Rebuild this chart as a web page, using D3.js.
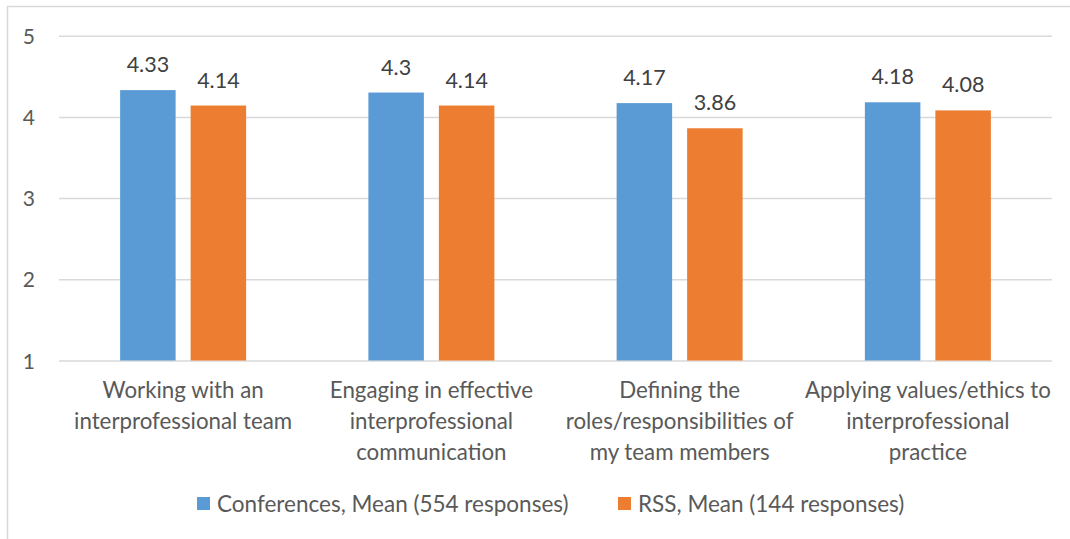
<!DOCTYPE html>
<html>
<head>
<meta charset="utf-8">
<script src="https://cdn.jsdelivr.net/npm/d3@7"></script>
<style>
  html, body { margin: 0; padding: 0; background: #ffffff; }
  svg { display: block; }
  text { font-family: Lato, "Open Sans", sans-serif; }
</style>
</head>
<body>
<svg id="chart" width="1070" height="539"></svg>
<script>
// Survey items (x-axis), wrapped onto lines as displayed
const categories = [
  ["Working with an", "interprofessional team"],
  ["Engaging in effective", "interprofessional", "communication"],
  ["Defining the", "roles/responsibilities of", "my team members"],
  ["Applying values/ethics to", "interprofessional", "practice"]
];
const seriesNames = ["Conferences, Mean (554 responses)", "RSS, Mean (144 responses)"];
const conferencesMean = [4.33, 4.3, 4.17, 4.18];
const rssMean = [4.14, 4.14, 3.86, 4.08];
const yTicks = [1, 2, 3, 4, 5];
const colors = ["#5b9bd5", "#ed7d31"];

const svg = d3.select("#chart");
const W = 1070, H = 539;
const plot = { left: 59, right: 1052, top: 35.7, bottom: 360.5 };

// chart frame
svg.append("rect").attr("x", 0).attr("y", 0).attr("width", W).attr("height", H).attr("fill", "#fff");
svg.append("path")
  .attr("d", `M7.5,${H + 2} L7.5,6.5 L${W + 2},6.5`)
  .attr("fill", "none").attr("stroke", "#d9d9d9").attr("stroke-width", 1.5);

const keys = categories.map((c, i) => i);
const x0 = d3.scaleBand().domain(keys).range([plot.left, plot.right]).padding(0);
const bw = x0.bandwidth();
const x1 = d3.scaleBand().domain([0, 1])
  .range([bw / 2 - 63, bw / 2 + 63]).paddingInner(15 / 70.5).paddingOuter(0);
const y = d3.scaleLinear().domain([1, 5]).range([plot.bottom, plot.top]);

// horizontal gridlines with value labels
const yAxis = d3.axisLeft(y).tickValues(yTicks).tickSize(-(plot.right - plot.left)).tickPadding(24).tickFormat(d3.format("d"));
const gy = svg.append("g").attr("transform", `translate(${plot.left},0)`).call(yAxis);
gy.select(".domain").remove();
gy.selectAll(".tick line").attr("stroke", "#d9d9d9").attr("stroke-width", 1.5);
gy.selectAll(".tick text").attr("fill", "#595959").attr("font-size", 21)
  .attr("font-family", "Lato, sans-serif").attr("dy", "0.36em");

const series = [conferencesMean, rssMean];

const groups = svg.append("g").selectAll("g")
  .data(keys).join("g")
  .attr("transform", d => `translate(${x0(d)},0)`);

groups.selectAll("rect")
  .data(i => series.map((s, k) => ({ k, v: s[i] })))
  .join("rect")
  .attr("x", d => x1(d.k))
  .attr("width", x1.bandwidth())
  .attr("y", d => y(d.v))
  .attr("height", d => y(1) - y(d.v))
  .attr("fill", d => colors[d.k]);

groups.selectAll("text.val")
  .data(i => series.map((s, k) => ({ k, v: s[i] })))
  .join("text")
  .attr("class", "val")
  .attr("x", d => x1(d.k) + x1.bandwidth() / 2)
  .attr("y", d => y(d.v) - 18)
  .attr("text-anchor", "middle")
  .attr("font-size", 21.5)
  .attr("fill", "#404040")
  .text(d => String(d.v));

// category labels
const xl = svg.append("g");
categories.forEach((lines, i) => {
  const t = xl.append("text")
    .attr("text-anchor", "middle")
    .attr("font-size", 22.3)
    .attr("fill", "#595959");
  lines.forEach((ln, j) => {
    t.append("tspan").attr("x", x0(i) + bw / 2).attr("y", 398 + j * 31).text(ln);
  });
});

// legend
const legendX = [197, 618];
const lg = svg.append("g");
seriesNames.forEach((name, k) => {
  lg.append("rect").attr("x", legendX[k]).attr("y", 497).attr("width", 13).attr("height", 13).attr("fill", colors[k]);
  lg.append("text").attr("x", legendX[k] + 20).attr("y", 512)
    .attr("font-size", 22.5).attr("fill", "#595959").text(name);
});
</script>
</body>
</html>
